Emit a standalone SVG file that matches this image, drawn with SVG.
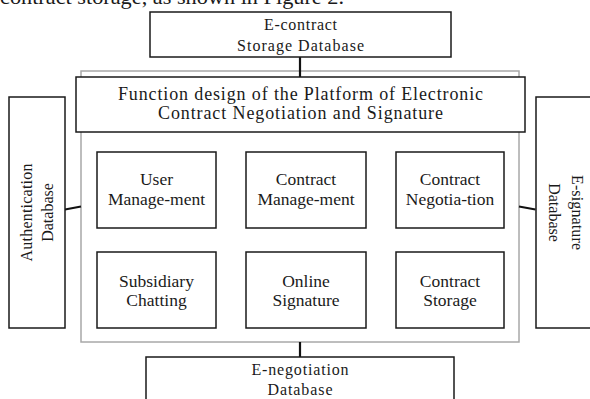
<svg xmlns="http://www.w3.org/2000/svg" width="590" height="399" viewBox="0 0 590 399">
  <style>
    .box { fill: #ffffff; stroke: #1a1a1a; stroke-width: 1.5; }
    .frame { fill: #ffffff; stroke: #a8a8a8; stroke-width: 1.5; }
    .link { stroke: #111111; stroke-width: 2.2; fill: none; }
    text { font-family: "Liberation Serif", "Times New Roman", serif; fill: #1a1a1a; text-anchor: middle; }
    .t18 { font-size: 18px; }
    .t17 { font-size: 17.5px; }
    .t16 { font-size: 16px; }
  </style>

  <rect width="590" height="399" fill="#ffffff"/>

  <!-- running text line above the figure -->
  <text x="172" y="4" style="font-size:21px" textLength="344" lengthAdjust="spacingAndGlyphs">contract storage, as shown in Figure 2.</text>

  <!-- platform frame -->
  <rect id="platform-frame" class="frame" x="81" y="71" width="438" height="271"/>

  <!-- connectors -->
  <g id="connectors">
    <line class="link" x1="300" y1="57" x2="300" y2="77"/>
    <line class="link" x1="65" y1="209.5" x2="81" y2="206.5"/>
    <line class="link" x1="519" y1="206.5" x2="535.5" y2="209.5"/>
    <line class="link" x1="300" y1="342" x2="300" y2="357"/>
  </g>

  <g id="storage-db">
    <rect class="box" x="150" y="12" width="301" height="45"/>
    <text class="t16" x="300.5" y="30" textLength="73" lengthAdjust="spacing">E-contract</text>
    <text class="t16" x="300.5" y="51" textLength="127" lengthAdjust="spacing">Storage Database</text>
  </g>

  <g id="platform-title">
    <rect class="box" x="76" y="77" width="449" height="55"/>
    <text class="t18" x="300.5" y="100" textLength="365" lengthAdjust="spacing">Function design of the Platform of Electronic</text>
    <text class="t18" x="300.5" y="119" textLength="285" lengthAdjust="spacing">Contract Negotiation and Signature</text>
  </g>

  <g id="auth-db">
    <rect class="box" x="9" y="97" width="56" height="231"/>
    <g transform="translate(0,212.5) rotate(-90)">
      <text class="t16" x="0" y="32" textLength="98" lengthAdjust="spacing">Authentication</text>
      <text class="t16" x="0" y="53">Database</text>
    </g>
  </g>

  <g id="esign-db">
    <rect class="box" x="536" y="97" width="70" height="231"/>
    <g transform="translate(0,212.5) rotate(90)">
      <text class="t16" x="0" y="-571.5" textLength="75" lengthAdjust="spacing">E-signature</text>
      <text class="t16" x="0" y="-549">Database</text>
    </g>
  </g>

  <g id="user-management">
    <rect class="box" x="97" y="152" width="119" height="76"/>
    <text class="t17" x="156.5" y="185">User</text>
    <text class="t17" x="156.5" y="205">Manage-ment</text>
  </g>

  <g id="contract-management">
    <rect class="box" x="246" y="152" width="120" height="76"/>
    <text class="t17" x="306" y="185">Contract</text>
    <text class="t17" x="306" y="205">Manage-ment</text>
  </g>

  <g id="contract-negotiation">
    <rect class="box" x="396" y="152" width="108" height="76"/>
    <text class="t17" x="450" y="185">Contract</text>
    <text class="t17" x="450" y="205">Negotia-tion</text>
  </g>

  <g id="subsidiary-chatting">
    <rect class="box" x="97" y="252" width="119" height="76"/>
    <text class="t17" x="156.5" y="286.5">Subsidiary</text>
    <text class="t17" x="156.5" y="306">Chatting</text>
  </g>

  <g id="online-signature">
    <rect class="box" x="246" y="252" width="120" height="76"/>
    <text class="t17" x="306" y="286.5">Online</text>
    <text class="t17" x="306" y="306">Signature</text>
  </g>

  <g id="contract-storage">
    <rect class="box" x="396" y="252" width="108" height="76"/>
    <text class="t17" x="450" y="286.5">Contract</text>
    <text class="t17" x="450" y="306">Storage</text>
  </g>

  <g id="negotiation-db">
    <rect class="box" x="146" y="357" width="308" height="60"/>
    <text class="t16" x="300" y="375" textLength="97" lengthAdjust="spacing">E-negotiation</text>
    <text class="t16" x="300" y="395" textLength="65" lengthAdjust="spacing">Database</text>
  </g>
</svg>
